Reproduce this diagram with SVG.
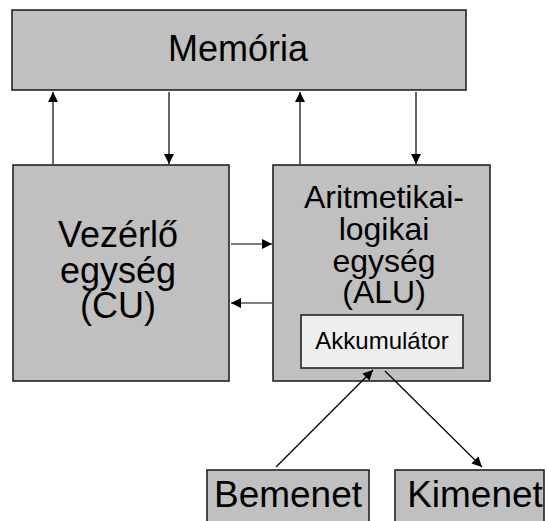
<svg xmlns="http://www.w3.org/2000/svg" width="547" height="521" viewBox="0 0 547 521">
<defs>
<marker id="ah" viewBox="0 0 10 10" refX="10" refY="5" markerWidth="10" markerHeight="10" markerUnits="userSpaceOnUse" orient="auto">
<path d="M0,0 L10,5 L0,10 z" fill="#000"/>
</marker>
<style>
.box{fill:#c0c0c0;stroke:#222;stroke-width:1.6}
.acc{fill:#eeeeee;stroke:#222;stroke-width:1.6}
.t{font-family:"Liberation Sans",Arial,sans-serif;fill:#000;text-anchor:middle}
.c{stroke:#000;stroke-width:1.2;fill:none;marker-end:url(#ah)}
</style>
</defs>
<rect width="547" height="521" fill="#fff"/>
<g id="memoria">
<rect class="box" x="12" y="10" width="454" height="80"/>
<text class="t" x="238" y="61" font-size="36">Memória</text>
</g>
<g id="cu">
<rect class="box" x="13" y="165" width="216" height="216"/>
<text class="t" font-size="36"><tspan x="118" y="247">Vezérlő</tspan><tspan x="118" y="283">egység</tspan><tspan x="118" y="318">(CU)</tspan></text>
</g>
<g id="alu">
<rect class="box" x="273" y="165" width="217" height="216"/>
<text class="t" font-size="32"><tspan x="384" y="208">Aritmetikai-</tspan><tspan x="384" y="240">logikai</tspan><tspan x="384" y="272">egység</tspan><tspan x="384" y="303">(ALU)</tspan></text>
</g>
<g id="akkumulator">
<rect class="acc" x="301" y="315" width="162" height="53"/>
<text class="t" x="382" y="349" font-size="24">Akkumulátor</text>
</g>
<g id="bemenet">
<rect class="box" x="207" y="470" width="162" height="60"/>
<text class="t" x="288" y="507" font-size="37">Bemenet</text>
</g>
<g id="kimenet">
<rect class="box" x="395" y="470" width="149" height="60"/>
<text class="t" x="475" y="507" font-size="37">Kimenet</text>
</g>
<g id="connectors">
<line class="c" x1="53" y1="164" x2="53" y2="92"/>
<line class="c" x1="169" y1="92" x2="169" y2="164"/>
<line class="c" x1="300" y1="164" x2="300" y2="92"/>
<line class="c" x1="416" y1="92" x2="416" y2="164"/>
<line class="c" x1="231" y1="244" x2="272" y2="244"/>
<line class="c" x1="272" y1="303" x2="231" y2="303"/>
<line class="c" x1="276" y1="467" x2="373" y2="370"/>
<line class="c" x1="385" y1="371" x2="482" y2="467"/>
</g>
</svg>
